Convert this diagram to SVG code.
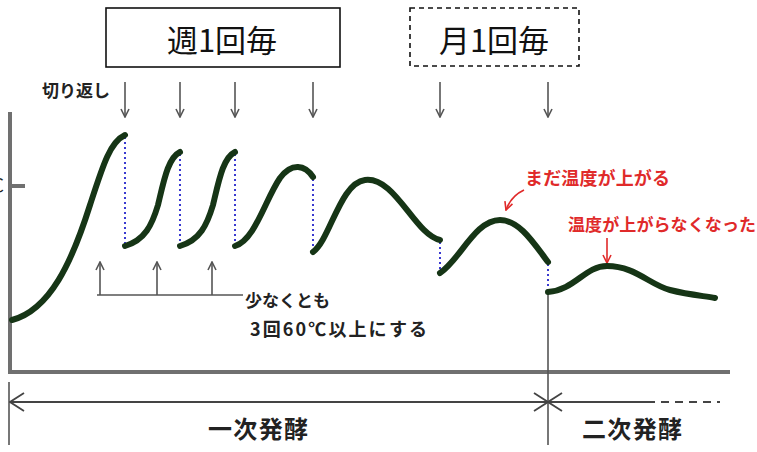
<svg xmlns="http://www.w3.org/2000/svg" width="757" height="452" viewBox="0 0 757 452">
<defs>
<style>
.jp{font-family:"Noto Sans CJK JP","Noto Sans",sans-serif;}
.b{font-weight:bold;}
.box{fill:#fff;stroke:#111;stroke-width:1.6;}
.dash{stroke-dasharray:5,4;}
.curve{fill:none;stroke:#163516;stroke-width:6;stroke-linecap:round;stroke-linejoin:round;}
.dot{stroke:#3a3ad0;stroke-width:2;stroke-dasharray:2,3;fill:none;}
.axis{stroke:#707070;stroke-width:4;fill:none;}
.thin{stroke:#555;stroke-width:1.6;fill:none;}
.red{stroke:#e02a2a;stroke-width:1.6;fill:none;}
.redt{fill:#e02a2a;}
</style>
<marker id="ah" viewBox="0 0 10 10" refX="9" refY="5" markerWidth="10" markerHeight="10" markerUnits="userSpaceOnUse" orient="auto">
<path d="M1,1 L9,5 L1,9" fill="none" stroke="#555" stroke-width="1.6"/>
</marker>
<marker id="ahr" viewBox="0 0 10 10" refX="9" refY="5" markerWidth="10" markerHeight="10" markerUnits="userSpaceOnUse" orient="auto">
<path d="M1,1 L9,5 L1,9" fill="none" stroke="#e02a2a" stroke-width="1.6"/>
</marker>
<marker id="ahb" viewBox="0 0 16 20" refX="15" refY="10" markerWidth="16" markerHeight="20" markerUnits="userSpaceOnUse" orient="auto-start-reverse">
<path d="M1,1 L15,10 L1,19" fill="none" stroke="#444" stroke-width="1.8"/>
</marker>
</defs>

<g id="box-weekly">
<rect class="box" x="106" y="8" width="234" height="59"/>
<text class="jp" x="222" y="52" font-size="31" text-anchor="middle" fill="#111">週1回毎</text>
</g>
<g id="box-monthly">
<rect class="box dash" x="410" y="8" width="169" height="58"/>
<text class="jp" x="494" y="52" font-size="31" text-anchor="middle" fill="#111">月1回毎</text>
</g>

<g id="label-kirikaeshi">
<text class="jp b" x="42" y="97" font-size="17" fill="#222">切り返し</text>
</g>

<g id="axes">
<path class="axis" d="M10,112 L10,372 L730,372"/>
<line class="axis" x1="10" y1="186" x2="25" y2="186"/>
<text class="jp" x="4" y="192" font-size="18" text-anchor="end" fill="#222">℃</text>
</g>

<g id="connectors">
<line class="thin" x1="125" y1="82" x2="125" y2="117" marker-end="url(#ah)"/>
<line class="thin" x1="180" y1="82" x2="180" y2="117" marker-end="url(#ah)"/>
<line class="thin" x1="235" y1="82" x2="235" y2="117" marker-end="url(#ah)"/>
<line class="thin" x1="313" y1="82" x2="313" y2="117" marker-end="url(#ah)"/>
<line class="thin" x1="440" y1="82" x2="440" y2="117" marker-end="url(#ah)"/>
<line class="thin" x1="548" y1="82" x2="548" y2="117" marker-end="url(#ah)"/>

<line class="dot" x1="125" y1="137" x2="125" y2="245"/>
<line class="dot" x1="180" y1="154" x2="180" y2="245"/>
<line class="dot" x1="235" y1="154" x2="235" y2="245"/>
<line class="dot" x1="313" y1="179" x2="313" y2="251"/>
<line class="dot" x1="440" y1="242" x2="440" y2="272"/>
<line class="dot" x1="548" y1="264" x2="548" y2="291"/>

<line class="thin" x1="97" y1="295" x2="243" y2="295"/>
<line class="thin" x1="100" y1="295" x2="100" y2="262" marker-end="url(#ah)"/>
<line class="thin" x1="157" y1="295" x2="157" y2="262" marker-end="url(#ah)"/>
<line class="thin" x1="212" y1="295" x2="212" y2="262" marker-end="url(#ah)"/>

<path class="red" d="M524,190 Q511,196 506,210" marker-end="url(#ahr)"/>
<line class="red" x1="607" y1="238" x2="607" y2="263" marker-end="url(#ahr)"/>

<line class="thin" x1="9" y1="382" x2="9" y2="445"/>
<line class="thin" x1="548" y1="292" x2="548" y2="445"/>
<line stroke="#444" stroke-width="2" x1="10" y1="402" x2="548" y2="402" marker-start="url(#ahb)" marker-end="url(#ahb)"/>
<line stroke="#444" stroke-width="2" x1="548" y1="402" x2="655" y2="402" marker-start="url(#ahb)"/>
<line stroke="#444" stroke-width="2" stroke-dasharray="8,6" x1="661" y1="402" x2="720" y2="402"/>
</g>

<g id="temperature-curves">
<path class="curve" d="M12,320 C50,310 72,262 90,205 C103,165 110,142 125,135"/>
<path class="curve" d="M125,246 C145,240 152,225 158,205 C164,180 168,158 180,152"/>
<path class="curve" d="M180,246 C200,240 207,225 213,205 C219,180 223,158 235,152"/>
<path class="curve" d="M235,246 C255,240 265,200 280,178 C292,162 305,165 313,177"/>
<path class="curve" d="M313,252 C330,240 340,183 365,180 C395,176 415,235 440,240"/>
<path class="curve" d="M440,273 C460,260 475,220 500,220 C520,220 535,245 548,262"/>
<path class="curve" d="M548,292 C575,290 585,266 607,266 C635,266 650,285 670,290 C690,295 705,296 715,298"/>
</g>

<g id="label-min3">
<text class="jp b" x="245" y="307" font-size="17" fill="#222" textLength="85">少なくとも</text>
<text class="jp b" x="250" y="336" font-size="18" fill="#222" textLength="177">3回60℃以上にする</text>
</g>

<g id="label-still-rising">
<text class="jp b redt" x="525" y="185" font-size="18" textLength="145">まだ温度が上がる</text>
</g>
<g id="label-stopped">
<text class="jp b redt" x="568" y="231" font-size="17" textLength="188">温度が上がらなくなった</text>
</g>

<g id="label-primary">
<text class="jp b" x="258" y="438" font-size="24" text-anchor="middle" fill="#222" textLength="100">一次発酵</text>
</g>
<g id="label-secondary">
<text class="jp b" x="632" y="438" font-size="24" text-anchor="middle" fill="#222" textLength="100">二次発酵</text>
</g>
</svg>
